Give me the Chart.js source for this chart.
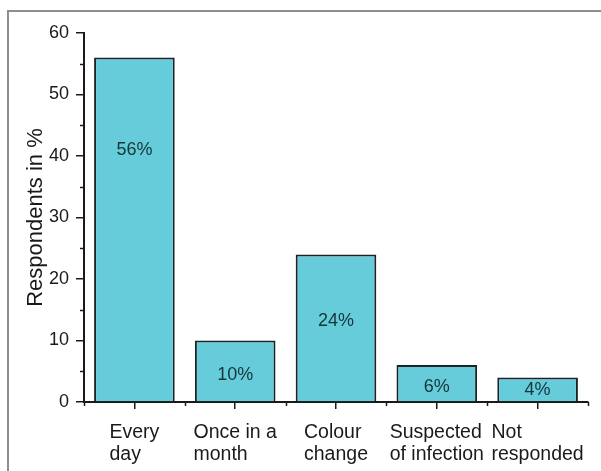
<!DOCTYPE html>
<html>
<head>
<meta charset="utf-8">
<script src="https://cdn.jsdelivr.net/npm/chart.js@4.4.0/dist/chart.umd.min.js"></script>
<style>
  html, body { margin: 0; padding: 0; background: #fff; }
  #wrap { position: relative; width: 601px; height: 471px; overflow: hidden; }
  #frame { position: absolute; left: 7px; top: 10px; width: 700px; height: 600px;
           border-left: 2px solid #8e8e8e; border-top: 2px solid #8e8e8e; }
  canvas { position: absolute; left: 0; top: 0; }
</style>
</head>
<body>
<div id="wrap">
  <div id="frame"></div>
  <canvas id="respChart" width="601" height="471"></canvas>
</div>
<script>
const categories = [
  ["Every", "day"],
  ["Once in a", "month"],
  ["Colour", "change"],
  ["Suspected", "of infection"],
  ["Not", "responded"]
];
const respondents = [56, 10, 24, 6, 4];
// level (in % units) where each bar's label sits
const barLabelLevels = [41, 4.4, 13.2, 2.4, 1.9];
const yTicks = [0, 10, 20, 30, 40, 50, 60];
const yMinorTicks = [5, 15, 25, 35, 45, 55];

const FONT = "\"Liberation Sans\", Arial, sans-serif";
const INK = "#1a1a1a";
const BAR_FILL = "#66ccda";
const BAR_EDGE = "#1a2426";

const extrasPlugin = {
  id: "extras",
  afterDraw(chart) {
    const { ctx, scales } = chart;
    const x = scales.x;
    const y = scales.y;
    ctx.save();
    ctx.strokeStyle = INK;
    ctx.lineWidth = 1.5;
    // minor y ticks
    yMinorTicks.forEach((v) => {
      const py = Math.round(y.getPixelForValue(v)) + 0.5;
      ctx.beginPath();
      ctx.moveTo(x.left - 4, py);
      ctx.lineTo(x.left, py);
      ctx.stroke();
    });
    // minor x ticks at category boundaries
    for (let i = 0; i <= categories.length; i++) {
      const px = Math.round(x.getPixelForValue(i - 0.5)) + 0.5;
      ctx.beginPath();
      ctx.moveTo(px, y.bottom);
      ctx.lineTo(px, y.bottom + 4);
      ctx.stroke();
    }
    // category labels, lines left-aligned as a block under each tick
    ctx.fillStyle = INK;
    ctx.font = "19.5px " + FONT;
    ctx.textAlign = "left";
    ctx.textBaseline = "alphabetic";
    categories.forEach((lines, i) => {
      const w = Math.max(...lines.map((l) => ctx.measureText(l).width));
      const left = x.getPixelForValue(i) - w / 2;
      lines.forEach((l, k) => {
        ctx.fillText(l, left, y.bottom + 36 + k * 22);
      });
    });
    // bar value labels
    ctx.fillStyle = "#143539";
    ctx.font = "18px " + FONT;
    ctx.textAlign = "center";
    ctx.textBaseline = "middle";
    respondents.forEach((v, i) => {
      ctx.fillText(`${v}%`, x.getPixelForValue(i), y.getPixelForValue(barLabelLevels[i]));
    });
    ctx.restore();
  }
};

new Chart(document.getElementById("respChart"), {
  type: "bar",
  data: {
    labels: categories.map((c) => c.join(" ")),
    datasets: [{
      data: respondents,
      backgroundColor: BAR_FILL,
      borderColor: BAR_EDGE,
      borderWidth: 2,
      borderSkipped: "start",
      categoryPercentage: 1,
      barPercentage: 0.8
    }]
  },
  options: {
    responsive: false,
    animation: false,
    layout: { padding: { left: 19, right: 13, top: 33, bottom: 0 } },
    plugins: {
      legend: { display: false },
      tooltip: { enabled: false }
    },
    scales: {
      x: {
        offset: true,
        grid: { display: true, drawOnChartArea: false, offset: false, tickLength: 7, color: INK, lineWidth: 1.5 },
        border: { display: true, color: INK, width: 2 },
        ticks: { display: false },
        afterFit(s) {
          s.height = 69;
          s.paddingLeft = 0;
          s.paddingRight = 0;
        }
      },
      y: {
        min: 0,
        max: 60,
        afterBuildTicks(s) {
          s.ticks = yTicks.map((v) => ({ value: v }));
        },
        grid: { display: true, drawOnChartArea: false, tickLength: 8, color: INK, lineWidth: 1.5 },
        border: { display: true, color: INK, width: 2 },
        ticks: {
          color: INK,
          font: { family: FONT, size: 18 },
          padding: 7
        },
        title: {
          display: true,
          text: "Respondents in %",
          color: INK,
          font: { family: FONT, size: 22, lineHeight: 1.2 },
          padding: { top: 4, bottom: 4 }
        },
        afterFit(s) {
          s.width = 65;
        }
      }
    }
  },
  plugins: [extrasPlugin]
});
</script>
</body>
</html>
